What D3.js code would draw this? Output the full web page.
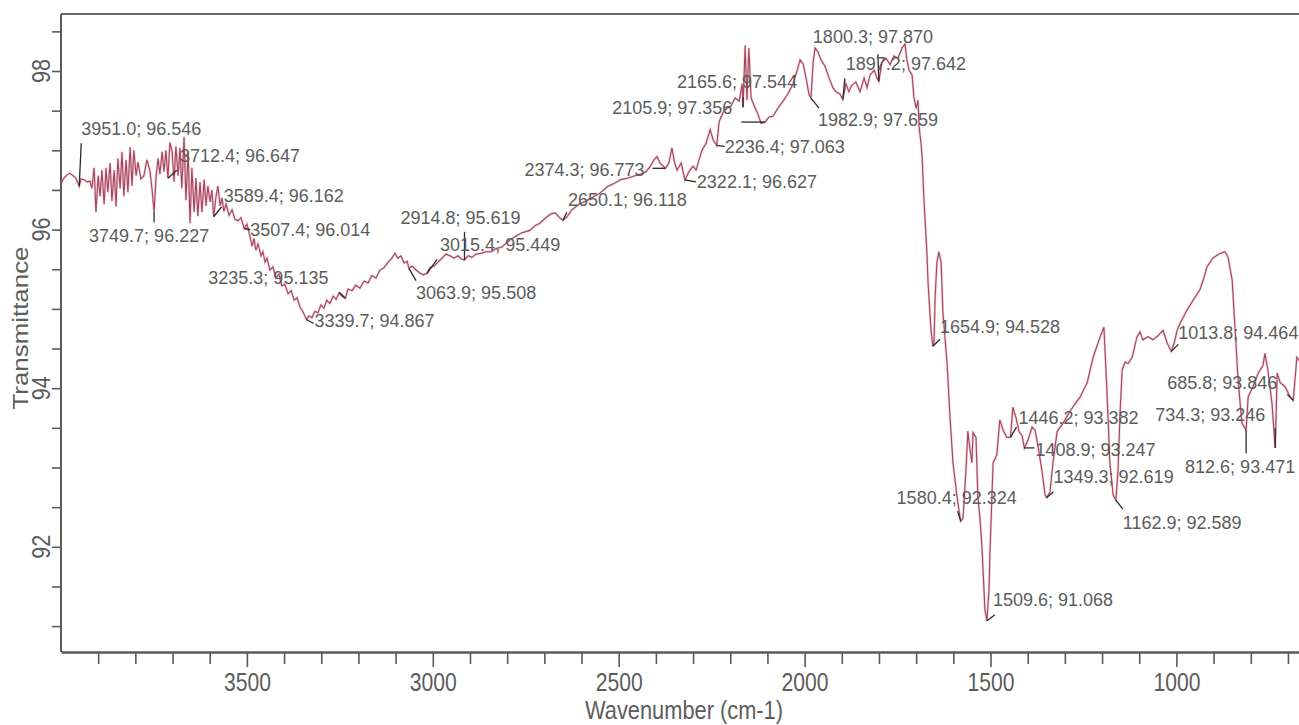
<!DOCTYPE html>
<html>
<head>
<meta charset="utf-8">
<script src="https://cdn.jsdelivr.net/npm/d3@7"></script>
<style>
html, body { margin: 0; padding: 0; background: #fff; }
svg { display: block; font-family: "Liberation Sans", Arial, sans-serif; }
</style>
</head>
<body>
<svg id="chart" width="1299" height="725"></svg>
<script>
// IR spectrum (wavenumber in cm-1, transmittance in %)
var wavenumber = [
    4000,3992,3984,3976,3968,3960,3951.0,3946,3938,3930,
    3922,3917,3911,3906,3900,3895,3890,3884,3879,3874,
    3868,3863,3857,3852,3847,3841,3836,3831,3825,3820,
    3814,3809,3804,3798,3793,3785,3777,3769,3761,3755,
    3749.7,3744,3739,3734,3728,3723,3718,3712.4,3707,3701,
    3696,3691,3685,3680,3675,3669,3664,3658,3653,3648,
    3642,3637,3632,3626,3621,3615,3610,3605,3599,3594,
    3589.4,3583,3578,3572,3567,3562,3556,3548,3540,3532,
    3524,3516,3507.4,3500,3492,3486,3481,3476,3470,3462,
    3457,3451,3446,3438,3430,3422,3414,3406,3398,3389,
    3381,3373,3365,3357,3349,3339.7,3333,3325,3317,3309,
    3301,3293,3285,3277,3268,3260,3252,3244,3235.3,3228,
    3217,3207,3196,3185,3174,3164,3153,3142,3131,3120,
    3110,3102,3094,3086,3077,3069,3063.9,3056,3045,3034,
    3026,3015.4,3008,2997,2986,2975,2965,2954,2943,2932,
    2924,2914.8,2905,2895,2884,2870,2857,2843,2830,2814,
    2803,2792,2776,2760,2739,2725,2712,2696,2682,2671,
    2661,2650.1,2639,2626,2607,2588,2569,2550,2531,2513,
    2494,2475,2456,2440,2427,2416,2405,2397,2389,2374.3,
    2365,2357,2349,2343,2332,2322.1,2311,2300,2292,2284,
    2276,2265,2254,2246,2236.4,2230,2219,2209,2198,2187,
    2176,2168,2165.6,2160,2155,2150,2144,2133,2125,2117,
    2105.9,2096,2085,2072,2058,2045,2031,2020,2012,2004,
    1996,1988,1982.9,1977,1972,1964,1956,1945,1934,1924,
    1916,1905,1897.2,1889,1881,1873,1862,1851,1840,1832,
    1824,1813,1805,1800.3,1792,1781,1770,1760,1749,1738,
    1730,1725,1719,1711,1706,1700,1695,1692,1687,1684,
    1679,1676,1671,1668,1663,1660,1654.9,1652,1649,1644,
    1639,1633,1628,1622,1617,1609,1601,1590,1580.4,1574,
    1566,1561,1555,1550,1547,1539,1534,1528,1523,1515,
    1509.6,1504,1501,1493,1483,1475,1466,1456,1446.2,1440,
    1431,1423,1415,1408.9,1399,1388,1380,1372,1362,1353,
    1349.3,1340,1332,1321,1305,1286,1273,1259,1240,1224,
    1205,1195,1187,1179,1170,1162.9,1157,1152,1146,1138,
    1130,1119,1106,1098,1090,1076,1063,1050,1036,1025,
    1013.8,1006,998,990,971,955,937,926,918,902,
    883,869,861,850,842,834,824,812.6,807,794,
    780,767,762,754,743,734.3,729,721,708,694,
    685.8,676,667,654
];

var transmittance = [
    96.59,96.65,96.69,96.71,96.68,96.65,96.546,96.64,96.63,96.60,
    96.61,96.52,96.78,96.22,96.68,96.42,96.75,96.32,96.78,96.47,
    96.84,96.36,96.75,96.29,96.90,96.52,96.98,96.42,96.88,96.47,
    97.04,96.55,97.00,96.68,96.85,96.64,96.68,96.88,96.75,96.50,
    96.227,96.68,96.90,96.70,96.98,96.73,97.00,96.647,97.10,96.98,
    96.60,97.05,96.68,97.03,96.52,97.17,96.37,96.98,96.08,96.78,
    96.22,96.65,96.17,96.60,96.22,96.63,96.30,96.55,96.35,96.50,
    96.162,96.42,96.55,96.30,96.40,96.23,96.32,96.18,96.25,96.13,
    96.11,96.15,96.014,96.07,95.92,95.79,95.89,95.74,95.82,95.67,
    95.72,95.59,95.64,95.49,95.53,95.39,95.44,95.29,95.31,95.19,
    95.23,95.11,95.14,95.02,94.96,94.867,94.91,94.89,94.97,94.95,
    95.05,95.01,95.11,95.07,95.16,95.12,95.20,95.16,95.135,95.25,
    95.23,95.30,95.26,95.35,95.33,95.42,95.39,95.49,95.52,95.59,
    95.64,95.70,95.64,95.67,95.58,95.60,95.508,95.54,95.49,95.45,
    95.43,95.449,95.52,95.54,95.59,95.64,95.69,95.67,95.64,95.67,
    95.63,95.619,95.67,95.65,95.69,95.70,95.72,95.72,95.76,95.78,
    95.83,95.87,95.92,95.96,95.99,96.05,96.08,96.15,96.20,96.21,
    96.16,96.118,96.16,96.25,96.32,96.36,96.41,96.46,96.54,96.58,
    96.63,96.65,96.68,96.70,96.73,96.79,96.88,96.92,96.84,96.773,
    96.84,97.03,96.83,96.75,96.84,96.627,96.73,96.80,96.75,96.88,
    97.00,97.09,97.26,97.13,97.063,97.36,97.48,97.53,97.56,97.66,
    97.62,97.84,97.544,98.32,97.63,98.29,97.66,97.53,97.45,97.34,
    97.356,97.42,97.43,97.53,97.62,97.71,97.84,98.01,98.14,98.09,
    97.91,97.70,97.659,98.11,98.29,98.24,98.14,98.06,97.91,97.79,
    97.74,97.71,97.642,97.84,97.74,97.82,97.86,97.74,97.91,97.79,
    97.95,98.01,97.91,97.870,98.11,98.16,98.08,98.19,98.16,98.29,
    98.34,98.14,98.01,97.95,97.67,97.53,97.63,97.29,97.09,96.92,
    96.37,96.12,95.70,95.33,94.95,94.73,94.528,94.57,95.15,95.59,
    95.72,95.59,94.95,94.61,94.32,93.64,93.06,92.63,92.324,92.36,
    92.97,93.46,93.22,93.06,93.44,93.38,92.63,92.34,92.00,91.20,
    91.068,91.46,92.00,93.06,93.16,93.60,93.47,93.38,93.382,93.76,
    93.62,93.45,93.40,93.247,93.35,93.51,93.47,93.26,92.97,92.65,
    92.619,92.69,93.06,93.45,93.56,93.71,93.80,93.89,94.07,94.39,
    94.65,94.77,93.98,93.06,92.65,92.589,92.97,93.64,94.23,94.33,
    94.31,94.39,94.65,94.71,94.61,94.65,94.61,94.66,94.73,94.57,
    94.464,94.57,94.73,94.82,94.99,95.11,95.24,95.39,95.53,95.64,
    95.70,95.72,95.65,95.36,94.73,94.10,93.56,93.471,93.89,94.02,
    94.19,94.29,94.44,94.23,93.81,93.246,94.19,94.07,94.02,93.89,
    93.846,94.39,94.33,94.23
];

// picked peaks, as printed by the instrument software
var peakWavenumber = [3951.0, 3712.4, 3749.7, 3589.4, 3507.4, 3235.3, 3339.7, 3063.9, 3015.4, 2914.8,
    2650.1, 2374.3, 2322.1, 2236.4, 2105.9, 2165.6, 1982.9, 1897.2, 1800.3, 1654.9,
    1580.4, 1509.6, 1446.2, 1408.9, 1349.3, 1162.9, 1013.8, 812.6, 734.3, 685.8];
var peakTransmittance = [96.546, 96.647, 96.227, 96.162, 96.014, 95.135, 94.867, 95.508, 95.449, 95.619,
    96.118, 96.773, 96.627, 97.063, 97.356, 97.544, 97.659, 97.642, 97.870, 94.528,
    92.324, 91.068, 93.382, 93.247, 92.619, 92.589, 94.464, 93.471, 93.246, 93.846];

var xTickLabels = [3500, 3000, 2500, 2000, 1500, 1000];
var yTickLabels = [92, 94, 96, 98];

var svg = d3.select("#chart");

var x = d3.scaleLinear().domain([4000, 400]).range([61, 1399.5]);
var y = d3.scaleLinear().domain([98, 91]).range([71, 626.1]);

var frameTop = 14, frameBottom = 652, frameLeft = 61;
var axisColor = "#5a5a5a";
var textColor = "#5c5c5c";

/* frame - the right side is cut off in the scan */
svg.append("line")
    .attr("x1", frameLeft).attr("x2", 1299)
    .attr("y1", frameTop).attr("y2", frameTop)
    .attr("stroke", "#6a6a6a").attr("stroke-width", 2);
svg.append("line")
    .attr("x1", frameLeft).attr("x2", frameLeft)
    .attr("y1", frameTop).attr("y2", frameBottom)
    .attr("stroke", axisColor).attr("stroke-width", 2);

// x axis, a tick every 100 cm-1, labels every 500
var xAxis = d3.axisBottom(x)
    .tickValues(d3.range(3900, 400, -100))
    .tickSize(12)
    .tickSizeOuter(0)
    .tickFormat(function(d){ return xTickLabels.indexOf(d) >= 0 ? d : ""; });

var gx = svg.append("g")
    .attr("transform", "translate(0," + frameBottom + ")")
    .call(xAxis);
gx.select(".domain").attr("stroke", axisColor).attr("stroke-width", 2.5);
gx.selectAll(".tick line").attr("stroke", axisColor).attr("stroke-width", 1.6)
    .attr("y2", function(d){ return xTickLabels.indexOf(d) >= 0 ? 15 : 12; });
gx.selectAll(".tick text")
    .attr("y", 39).attr("dy", 0)
    .attr("fill", textColor)
    .style("font-size", "26px")
    .attr("font-family", "Liberation Sans, Arial, sans-serif")
    .attr("textLength", function(d){ return xTickLabels.indexOf(d) >= 0 ? 47 : null; })
    .attr("lengthAdjust", "spacingAndGlyphs");

// y axis, a tick every 0.5 %
var yAxis = d3.axisLeft(y)
    .tickValues(d3.range(91, 98.51, 0.5))
    .tickSize(9)
    .tickSizeOuter(0)
    .tickFormat("");
var gy = svg.append("g")
    .attr("transform", "translate(" + frameLeft + ",0)")
    .call(yAxis);
gy.select(".domain").remove();
gy.selectAll(".tick line").attr("stroke", axisColor).attr("stroke-width", 1.6);

svg.append("g").selectAll("text")
    .data(yTickLabels)
    .enter().append("text")
    .attr("transform", function(d){ return "translate(50," + y(d) + ") rotate(-90)"; })
    .attr("text-anchor", "middle")
    .attr("fill", textColor)
    .style("font-size", "25px")
    .attr("textLength", 24)
    .attr("lengthAdjust", "spacingAndGlyphs")
    .text(function(d){ return d; });

// axis titles
svg.append("text")
    .attr("x", 684).attr("y", 719)
    .attr("text-anchor", "middle")
    .attr("fill", textColor)
    .style("font-size", "26px")
    .attr("textLength", 198)
    .attr("lengthAdjust", "spacingAndGlyphs")
    .text("Wavenumber (cm-1)");

svg.append("text")
    .attr("transform", "translate(28,328) rotate(-90)")
    .attr("text-anchor", "middle")
    .attr("fill", textColor)
    .style("font-size", "22px")
    .attr("textLength", 163)
    .attr("lengthAdjust", "spacingAndGlyphs")
    .text("Transmittance");

/* spectrum line */
var spectrum = d3.range(wavenumber.length).map(function(i){
    return [wavenumber[i], transmittance[i]];
});
var line = d3.line()
    .x(function(d){ return x(d[0]); })
    .y(function(d){ return y(d[1]); });

svg.append("defs").append("clipPath").attr("id", "plotClip")
    .append("rect")
    .attr("x", frameLeft + 1).attr("y", frameTop + 1)
    .attr("width", 1299 - frameLeft).attr("height", frameBottom - frameTop - 2);

var plot = svg.append("g").attr("clip-path", "url(#plotClip)");
plot.append("path")
    .datum(spectrum)
    .attr("d", line)
    .attr("fill", "none")
    .attr("stroke", "#e7a9b8")
    .attr("stroke-width", 2.4)
    .attr("stroke-opacity", 0.6);
plot.append("path")
    .datum(spectrum)
    .attr("d", line)
    .attr("fill", "none")
    .attr("stroke", "#a3455f")
    .attr("stroke-width", 1.1);

/* peak labels - offsets of the label and of the leader tick, in px */
var labelLayout = [
    [2, -51, 2, -43], [12, -16, 9, -8], [-65, 30, 0, 11], [10, -15, 8, -10], [6, 8, 6, 1],
    [-137, -14, -6, -6], [8, 8, 7, 4], [7, 30, 7, 12], [13, -22, 10, -14], [-64, -36, 0, -28],
    [5, -14, 4, -8], [-141, 8, -13, 0], [12, 8, 11, 2], [8, 8, 8, 1], [-153, -8, -24, 0],
    [-66, -19, 0, -10], [7, 28, 8, 10], [3, -29, 2, -21], [-66, -38, -1, -27], [7, -13, 7, -7],
    [-64, -17, -3, -10], [6, -15, 8, -6], [8, -13, 6, -10], [11, 8, 10, 0], [7, -15, 7, -6],
    [7, 29, 7, 9], [7, -12, 7, -7], [-61, 43, 0, 23], [-120, -27, 0, -20], [-126, -11, -6, -6]
];

var peaks = peakWavenumber.map(function(w, i){
    return { w: w, t: peakTransmittance[i], lay: labelLayout[i] };
});

var gPeaks = svg.append("g").attr("clip-path", "url(#plotClip)");

gPeaks.selectAll("line.leader")
    .data(peaks)
    .enter().append("line")
    .attr("class", "leader")
    .attr("x1", function(d){ return x(d.w); })
    .attr("y1", function(d){ return y(d.t); })
    .attr("x2", function(d){ return x(d.w) + d.lay[2]; })
    .attr("y2", function(d){ return y(d.t) + d.lay[3]; })
    .attr("stroke", "#2a2a2a")
    .attr("stroke-width", 1.3);

gPeaks.selectAll("text.peak")
    .data(peaks)
    .enter().append("text")
    .attr("class", "peak")
    .attr("x", function(d){ return x(d.w) + d.lay[0]; })
    .attr("y", function(d){ return y(d.t) + d.lay[1]; })
    .attr("fill", textColor)
    .style("font-size", "18px")
    .text(function(d){ return d.w.toFixed(1) + "; " + d.t.toFixed(3); });
</script>
</body>
</html>
